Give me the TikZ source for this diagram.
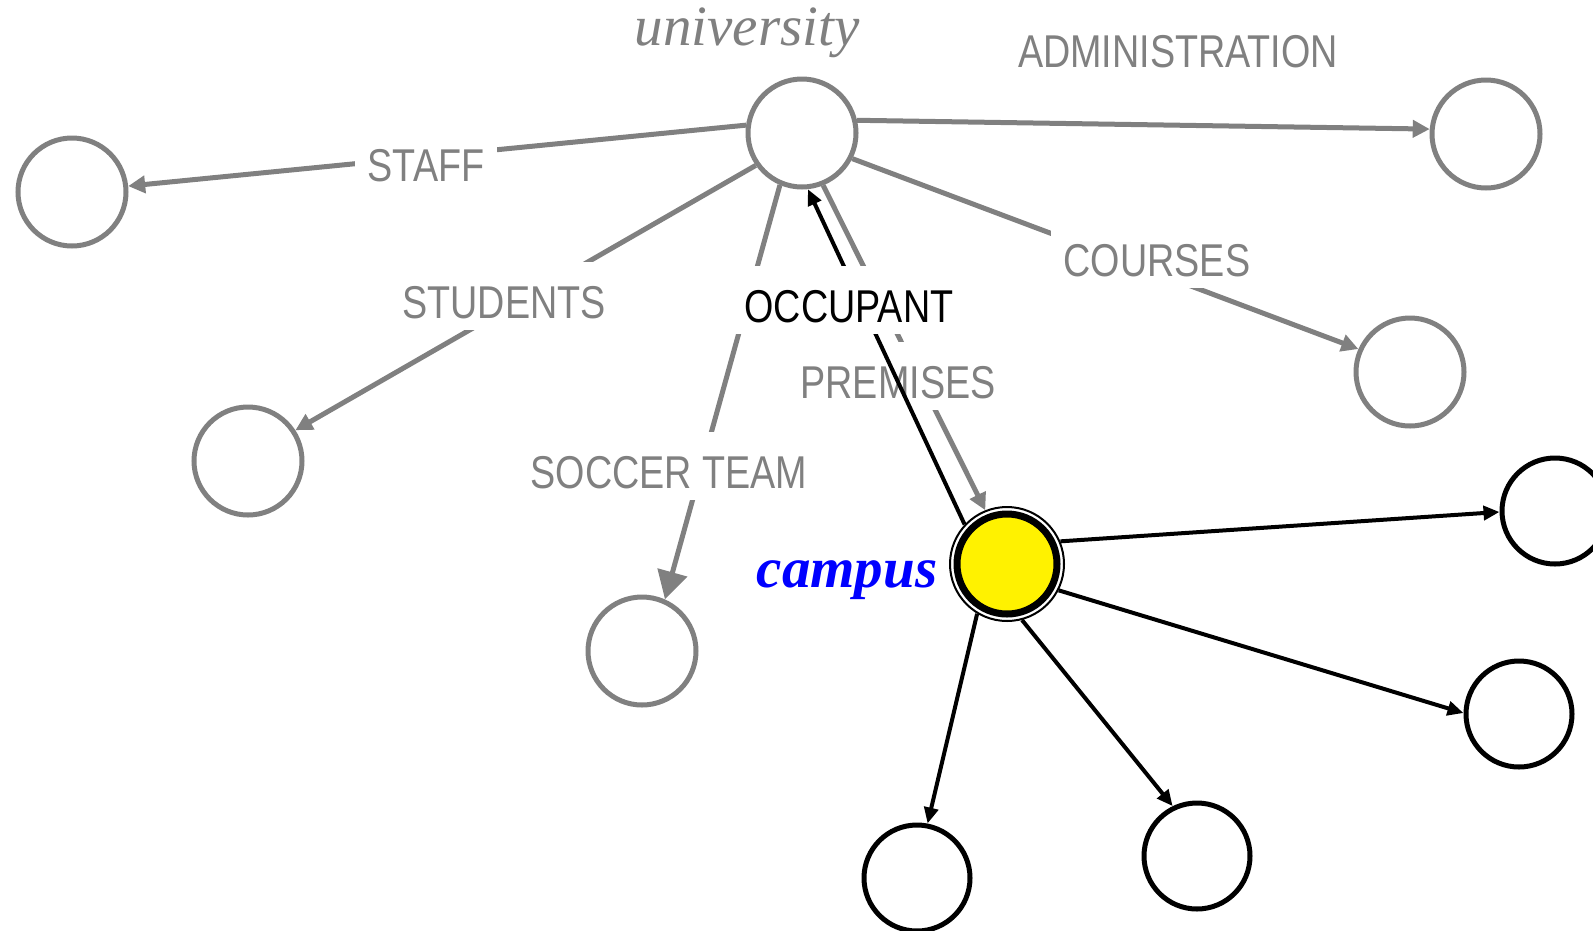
\documentclass[tikz,border=0pt]{standalone}
\usepackage{fontspec}
\setmainfont{Liberation Serif}
\newfontfamily\relfont[FakeStretch=0.82]{Liberation Sans}
\usetikzlibrary{arrows.meta}
\definecolor{relgray}{RGB}{128,128,128}

\begin{document}
\begin{tikzpicture}[x=1pt, y=-1pt,
        graything/.style={circle, draw=relgray, line width=5pt, minimum size=108pt, fill=white},
        blackthing/.style={circle, draw=black, line width=5pt, minimum size=106pt, fill=white},
        grayedge/.style={draw=relgray, line width=5pt, -{Triangle[length=17pt, width=17pt]}},
        blackedge/.style={draw=black, line width=4pt, -{Triangle[length=16pt, width=14pt]}},
        rel/.style={anchor=base, fill=white, text=relgray, font=\relfont\fontsize{46}{50}\selectfont,
            text height=44pt, text depth=0pt, inner xsep=13pt, inner ysep=12pt}]
        \useasboundingbox (0,0) rectangle (1593,930);
        \clip (0,0) rectangle (1593,930);
        \node[graything] (univ) at (802, 133) {};
        \node[graything] (staff) at (72, 192) {};
        \node[graything] (admin) at (1486, 134) {};
        \node[graything] (students) at (248, 461) {};
        \node[graything] (courses) at (1410, 372) {};
        \node[graything] (soccer) at (642, 651) {};
        \node[circle, draw, line width=2pt, minimum size=114pt, fill=white] (campus) at (1007, 564) {};
        \draw[line width=7pt, fill=yellow] (campus.center) circle[radius=50pt];
        \node[blackthing] (east1) at (1555, 511) {};
        \node[blackthing] (east2) at (1519, 714) {};
        \node[blackthing] (south2) at (1197, 856) {};
        \node[blackthing] (south1) at (917, 878) {};
        \node[anchor=base, text=relgray, font=\itshape\fontsize{57}{60}\selectfont] (univname) at (747, 45) {university};
        \node[anchor=base, text=blue, font=\bfseries\itshape\fontsize{57}{60}\selectfont] (campusname) at (847, 587) {campus};
        \draw[grayedge] (univ.172) -- (staff.6);
        \draw[grayedge] (univ.13) -- (admin.175);
        \draw[grayedge] (univ.215) -- (students.33);
        \draw[grayedge, -{Triangle[length=28pt, width=30pt]}] (univ.247) -- (soccer.66);
        \draw[grayedge] (univ.333) -- (courses.156);
        \draw[grayedge] (univ.292) -- (campus.112);
        \node[rel] (staffrel) at (426, 181) {STAFF};
        \node[rel] (adminrel) at (1178, 67) {ADMINISTRATION};
        \node[rel] (studentsrel) at (504, 318) {STUDENTS};
        \node[rel] (soccerrel) at (669, 488) {SOCCER TEAM};
        \node[rel] (coursesrel) at (1157, 276) {COURSES};
        \node[rel] (premisesrel) at (898, 398) {PREMISES};
        \draw[blackedge] (campus.137) -- (univ.276);
        \draw[blackedge] (campus.23) -- (east1.181);
        \draw[blackedge] (campus.333) -- (east2.179);
        \draw[blackedge] (campus.285) -- (south2.116);
        \draw[blackedge] (campus.239) -- (south1.79);
        \node[rel, text=black] (occupantrel) at (849, 322) {OCCUPANT};
\end{tikzpicture}
\end{document}
